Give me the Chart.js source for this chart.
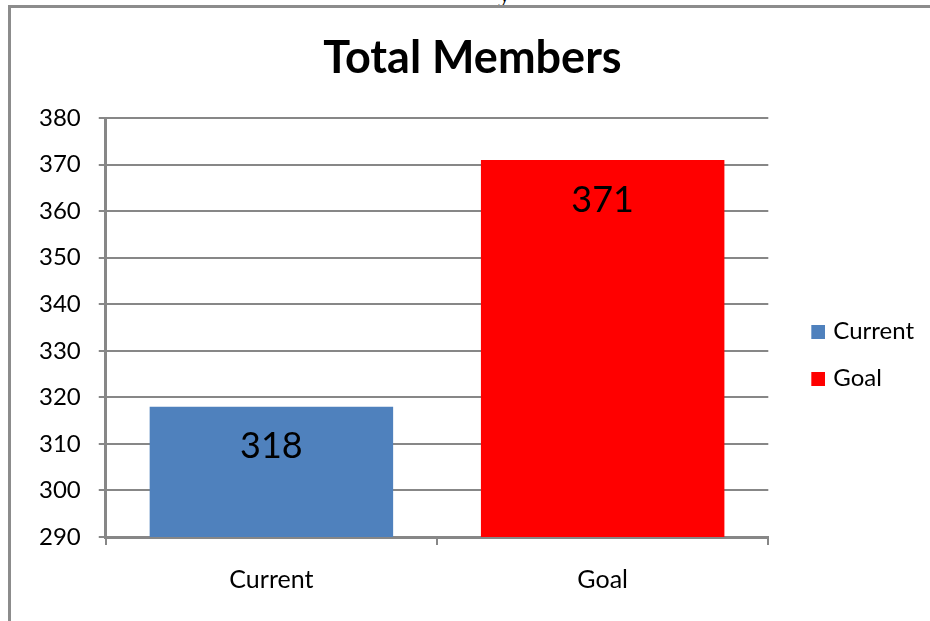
<!DOCTYPE html>
<html>
<head>
<meta charset="utf-8">
<script src="https://cdn.jsdelivr.net/npm/chart.js@4/dist/chart.umd.min.js"></script>
<style>
  html,body{margin:0;padding:0;background:#fff;}
  #wrap{position:relative;width:930px;height:621px;overflow:hidden;}
  #frame{position:absolute;left:8px;top:5px;right:-10px;bottom:-10px;border-top:3px solid #8c8c8c;border-left:3px solid #8c8c8c;}
  #frag{position:absolute;left:498px;top:-19px;font:26px "Liberation Serif",serif;color:#000;line-height:26px;}
  #cbox{position:absolute;left:0;top:0;width:930px;height:621px;}
</style>
</head>
<body>
<div id="wrap">
  <div id="frag">y</div>
  <div id="frame"></div>
  <div id="cbox"><canvas id="c" width="930" height="621"></canvas></div>
</div>
<script>
const categories = ["Current", "Goal"];
const values = [318, 371];
const barColors = ["#4f81bd", "#ff0000"];
const yMin = 290, yMax = 380, yStep = 10;

const FONT = "Lato, 'Open Sans', sans-serif";
const GRID = "#878787";

// legend swatch: 14px square at the right end of a wider transparent image
function swatch(color) {
  const cv = document.createElement('canvas');
  cv.width = 38; cv.height = 14;
  const g = cv.getContext('2d');
  g.fillStyle = color;
  g.fillRect(24, 0, 14, 14);
  return cv;
}
const swatches = barColors.map(swatch);

const dataLabels = {
  id: 'dataLabels',
  afterDatasetsDraw(chart) {
    const ctx = chart.ctx;
    const meta = chart.getDatasetMeta(0);
    ctx.save();
    ctx.font = "36px " + FONT;
    ctx.fillStyle = "#000";
    ctx.textAlign = "center";
    ctx.textBaseline = "middle";
    meta.data.forEach((bar, i) => {
      ctx.fillText(String(values[i]), bar.x, bar.y + 40);
    });
    ctx.restore();
  }
};

new Chart(document.getElementById('c'), {
  type: 'bar',
  data: {
    labels: categories,
    datasets: [{
      label: 'Total Members',
      data: values,
      backgroundColor: barColors,
      borderWidth: 0,
      barPercentage: 0.735,
      categoryPercentage: 1.0
    }]
  },
  options: {
    responsive: false,
    animation: false,
    devicePixelRatio: 1,
    layout: { padding: { left: 21, right: 6, top: 27, bottom: 6 } },
    plugins: {
      title: {
        display: true,
        text: 'Total Members',
        color: '#000',
        font: { family: FONT, size: 45, weight: 'bold' },
        padding: { top: 4, bottom: 33 }
      },
      legend: {
        display: true,
        position: 'right',
        align: 'center',
        title: { display: true, text: ' ', font: { size: 10 }, padding: { top: 56, bottom: 0 } },
        labels: {
          color: '#000',
          font: { family: FONT, size: 24 },
          usePointStyle: true,
          pointStyleWidth: 30,
          boxHeight: 14,
          padding: 23,
          generateLabels(chart) {
            return categories.map((c, i) => ({
              text: c,
              fillStyle: barColors[i],
              strokeStyle: barColors[i],
              fontColor: '#000',
              pointStyle: swatches[i],
              lineWidth: 0,
              hidden: false,
              index: i,
              datasetIndex: 0
            }));
          }
        },
        onClick: () => {}
      },
      tooltip: { enabled: false }
    },
    scales: {
      x: {
        grid: {
          offset: true,
          drawOnChartArea: false,
          drawTicks: true,
          tickLength: 8,
          color: GRID,
          lineWidth: 2
        },
        border: { display: true, color: GRID, width: 3 },
        ticks: {
          color: '#000',
          font: { family: FONT, size: 25 },
          padding: 20
        }
      },
      y: {
        min: yMin,
        max: yMax,
        grid: {
          color: GRID,
          lineWidth: 2,
          drawTicks: true,
          tickLength: 7
        },
        border: { display: true, color: GRID, width: 3 },
        ticks: {
          stepSize: yStep,
          color: '#000',
          font: { family: FONT, size: 24 },
          padding: 18
        }
      }
    }
  },
  plugins: [dataLabels]
});
</script>
</body>
</html>
